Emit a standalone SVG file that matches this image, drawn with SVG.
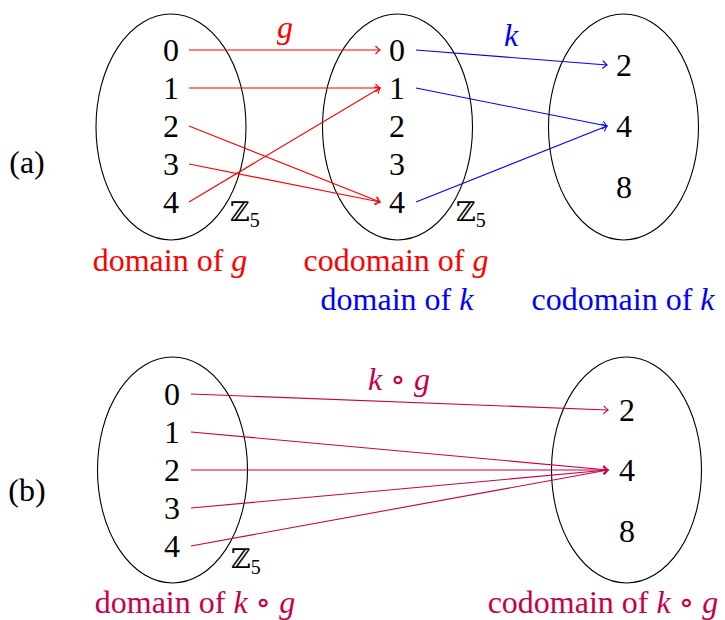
<svg xmlns="http://www.w3.org/2000/svg" width="725" height="620" viewBox="0 0 725 620">
<defs>
<style>
text{font-family:'Liberation Serif','DejaVu Serif',serif;font-size:32px;fill:#000}
.d{text-anchor:middle}
.it{font-style:italic}
.z{font-family:'DejaVu Serif',serif;font-size:27px}
.sub{font-family:'Liberation Serif',serif;font-size:20px}
.set{fill:none;stroke:#000;stroke-width:1.1}
.r{fill:#f00}
.b{fill:#00f}
.p{fill:#c8004b}
.ar{fill:none;stroke:#f00;stroke-width:1.1;marker-end:url(#mr)}
.ab{fill:none;stroke:#00f;stroke-width:1.1;marker-end:url(#mb)}
.ap{fill:none;stroke:#c8004b;stroke-width:1.1;marker-end:url(#mp)}
</style>
<marker id="mr" markerUnits="userSpaceOnUse" markerWidth="12" markerHeight="12" viewBox="-6 -6 12 12" refX="0" refY="0" orient="auto"><path d="M-4.5,-4 Q-1,-0.6 0,0 Q-1,0.6 -4.5,4" fill="none" stroke="#f00" stroke-width="1.1"/></marker>
<marker id="mb" markerUnits="userSpaceOnUse" markerWidth="12" markerHeight="12" viewBox="-6 -6 12 12" refX="0" refY="0" orient="auto"><path d="M-4.5,-4 Q-1,-0.6 0,0 Q-1,0.6 -4.5,4" fill="none" stroke="#00f" stroke-width="1.1"/></marker>
<marker id="mp" markerUnits="userSpaceOnUse" markerWidth="12" markerHeight="12" viewBox="-6 -6 12 12" refX="0" refY="0" orient="auto"><path d="M-4.5,-4 Q-1,-0.6 0,0 Q-1,0.6 -4.5,4" fill="none" stroke="#c8004b" stroke-width="1.1"/></marker>
</defs>

<text x="27" y="173" class="d">(a)</text>
<text x="27" y="501" class="d">(b)</text>

<g id="a-domain-g">
<ellipse class="set" cx="171" cy="127" rx="75" ry="113"/>
<text class="d" x="171" y="61">0</text>
<text class="d" x="171" y="99">1</text>
<text class="d" x="171" y="137">2</text>
<text class="d" x="171" y="175">3</text>
<text class="d" x="171" y="213">4</text>
<text class="z" x="230" y="221">ℤ<tspan class="sub" dy="6">5</tspan></text>
</g>

<g id="a-codomain-g">
<ellipse class="set" cx="397.5" cy="127" rx="75" ry="113"/>
<text class="d" x="397" y="61">0</text>
<text class="d" x="397" y="99">1</text>
<text class="d" x="397" y="137">2</text>
<text class="d" x="397" y="175">3</text>
<text class="d" x="397" y="213">4</text>
<text class="z" x="456" y="221">ℤ<tspan class="sub" dy="6">5</tspan></text>
</g>

<g id="a-codomain-k">
<ellipse class="set" cx="623.5" cy="127" rx="75" ry="113"/>
<text class="d" x="624" y="76">2</text>
<text class="d" x="624" y="137">4</text>
<text class="d" x="624" y="198">8</text>
</g>

<g id="b-domain">
<ellipse class="set" cx="172.5" cy="470" rx="75" ry="113"/>
<text class="d" x="172" y="405">0</text>
<text class="d" x="172" y="443">1</text>
<text class="d" x="172" y="481">2</text>
<text class="d" x="172" y="519">3</text>
<text class="d" x="172" y="557">4</text>
<text class="z" x="231" y="568">ℤ<tspan class="sub" dy="6">5</tspan></text>
</g>

<g id="b-codomain">
<ellipse class="set" cx="626.5" cy="470" rx="75" ry="113"/>
<text class="d" x="627" y="421">2</text>
<text class="d" x="627" y="481">4</text>
<text class="d" x="627" y="542">8</text>
</g>

<g id="connectors">
<line class="ar" x1="189" y1="50" x2="380" y2="50"/>
<line class="ar" x1="189" y1="88" x2="380" y2="88"/>
<line class="ar" x1="189" y1="126" x2="380" y2="202"/>
<line class="ar" x1="189" y1="164" x2="380" y2="202"/>
<line class="ar" x1="189" y1="202" x2="380" y2="88"/>
<line class="ab" x1="416" y1="50" x2="607" y2="65"/>
<line class="ab" x1="416" y1="88" x2="607" y2="126"/>
<line class="ab" x1="416" y1="202" x2="607" y2="126"/>
<line class="ap" x1="191" y1="394" x2="608" y2="410"/>
<line class="ap" x1="191" y1="432" x2="608" y2="470"/>
<line class="ap" x1="191" y1="470" x2="608" y2="470"/>
<line class="ap" x1="191" y1="508" x2="608" y2="470"/>
<line class="ap" x1="191" y1="546" x2="608" y2="470"/>
</g>

<g id="labels">
<text class="d it r" x="285" y="38">g</text>
<text class="d it b" x="511" y="46">k</text>
<text class="d p" x="399" y="390"><tspan class="it">k</tspan> ∘ <tspan class="it">g</tspan></text>
<text class="d r" x="170" y="271">domain of <tspan class="it">g</tspan></text>
<text class="d r" x="396" y="271">codomain of <tspan class="it">g</tspan></text>
<text class="d b" x="397" y="310">domain of <tspan class="it">k</tspan></text>
<text class="d b" x="623" y="310">codomain of <tspan class="it">k</tspan></text>
<text class="d p" x="195" y="613">domain of <tspan class="it">k</tspan> ∘ <tspan class="it">g</tspan></text>
<text class="d p" x="603" y="613">codomain of <tspan class="it">k</tspan> ∘ <tspan class="it">g</tspan></text>
</g>
</svg>
